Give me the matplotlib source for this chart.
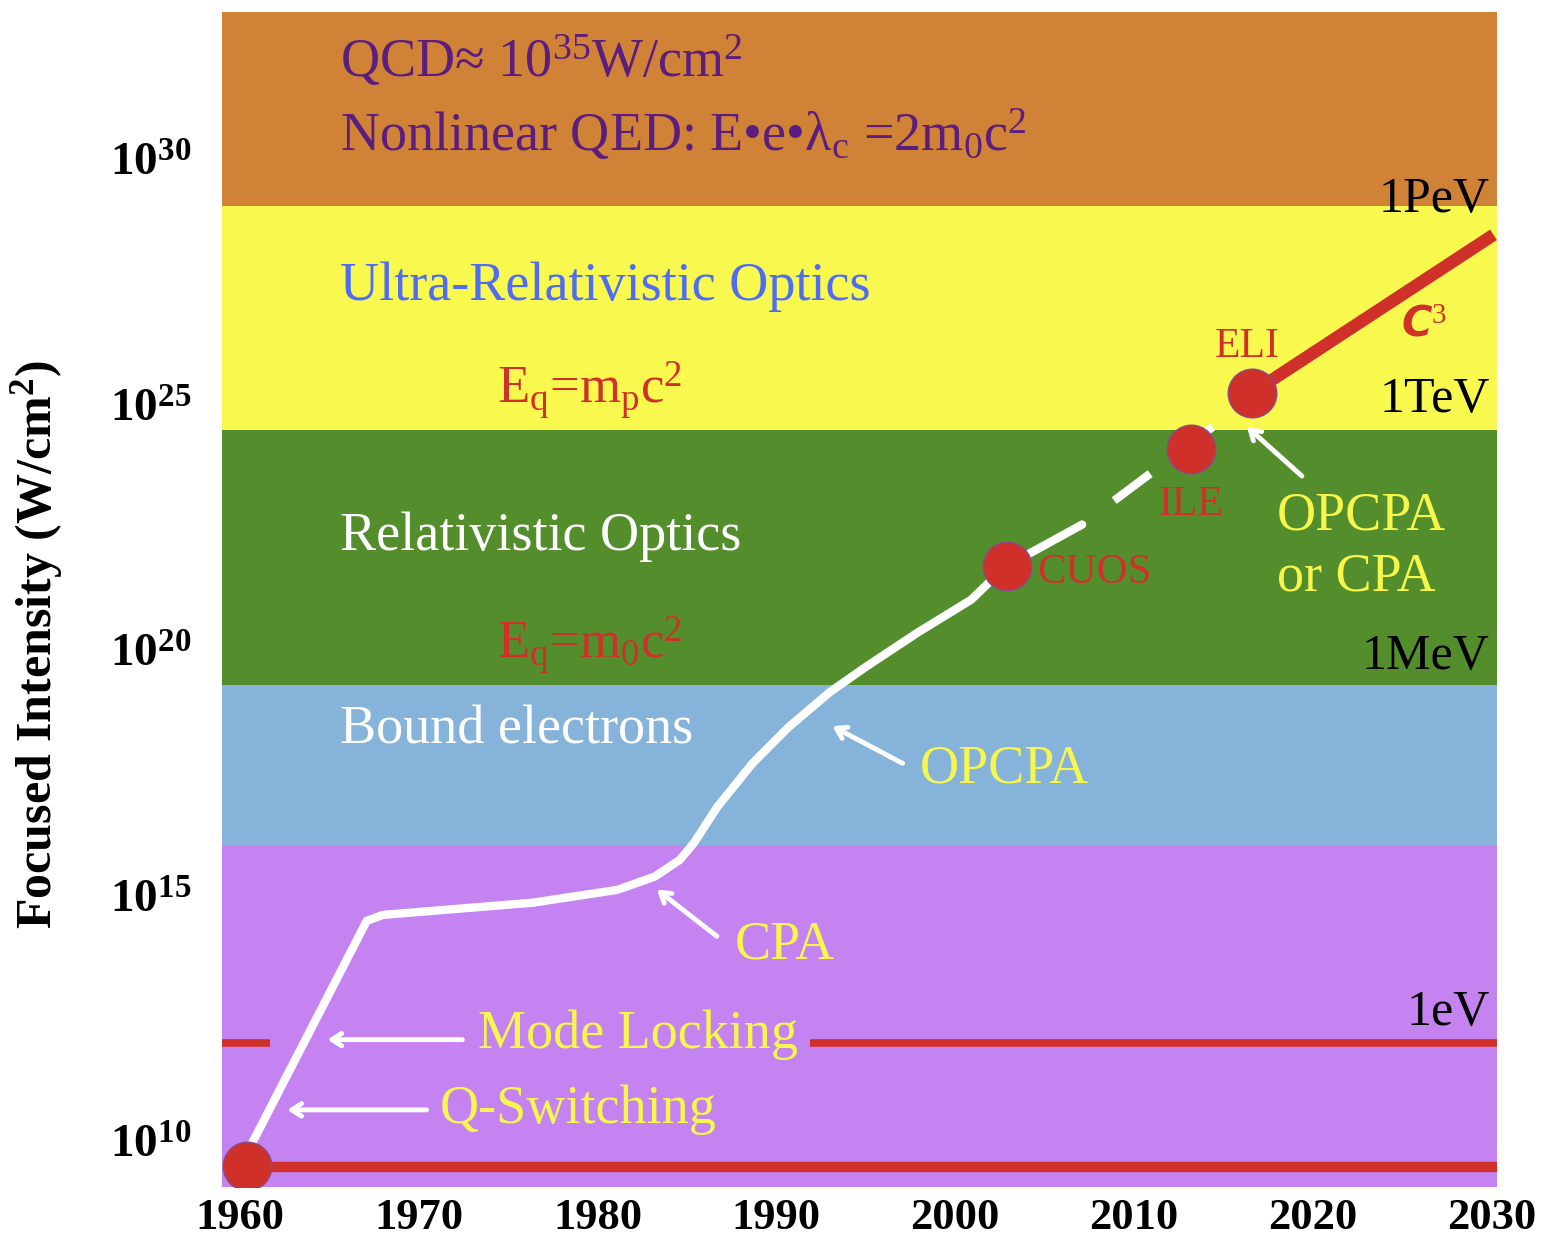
""" Laser focused intensity timeline """
import matplotlib
matplotlib.use('Agg')
import matplotlib.pyplot as plt

plt.rcParams['font.family'] = ['Liberation Serif', 'DejaVu Serif']
plt.rcParams['mathtext.fontset'] = 'custom'
plt.rcParams['mathtext.rm'] = 'Liberation Serif'
plt.rcParams['mathtext.it'] = 'Liberation Serif:italic'
plt.rcParams['mathtext.bf'] = 'Liberation Serif:bold'

# intensity regimes (log10 of W/cm^2)
band_lo = [9.08, 16.05, 19.3, 24.5, 29.05]
band_hi = [16.05, 19.3, 24.5, 29.05, 33.0]
band_colors = ['#C583F2', '#85B3D9', '#548E2C', '#F8F84E', '#D08237']

# white envelope of peak intensity
curve_years = [1960.7, 1967.1, 1968.0, 1976.4, 1981.1, 1983.2,
               1984.6, 1985.4, 1986.7, 1988.7, 1990.7, 1993.0, 1995.0, 1997.9,
               2000.9, 2002.8, 2007.1]
curve_exp = [9.98, 14.5, 14.62, 14.87, 15.13, 15.40,
             15.74, 16.09, 16.82, 17.72, 18.45, 19.16, 19.67, 20.37,
             21.04, 21.71, 22.57]
dash_years = [2007.1, 2014.4]
dash_exp = [22.57, 24.56]

# facilities
dot_years = [1960.4, 2002.9, 2013.2, 2016.6]
dot_exp = [9.51, 21.73, 24.1, 25.25]

# C^3 projection
c3_years = [2016.6, 2030.1]
c3_exp = [25.25, 28.47]

# reference lines
bottom_line_years = [1960.4, 2030.3]
bottom_line_exp = [9.49, 9.49]
ev_line_years = [[1959.0, 1961.7], [1991.9, 2030.3]]
ev_line_exp = 12.02

x_ticks = [1960, 1970, 1980, 1990, 2000, 2010, 2020, 2030]
y_ticks = [10, 15, 20, 25, 30]


def p10(e):
    return 10.0 ** e


fig = plt.figure(figsize=(15.41, 12.39), dpi=100)
ax = fig.add_axes([0.144, 0.042, 0.8275, 0.948])
ax.set_yscale('log')
ax.set_xlim(1959.0, 2030.3)
ax.set_ylim(p10(9.08), p10(33.0))

for lo, hi, c in zip(band_lo, band_hi, band_colors):
    ax.axhspan(p10(lo), p10(hi), color=c, lw=0, zorder=0)

red = '#D0302A'
ax.plot(bottom_line_years, [p10(v) for v in bottom_line_exp], color=red, lw=7.5,
        solid_capstyle='butt', zorder=2)
for seg in ev_line_years:
    ax.plot(seg, [p10(ev_line_exp)] * 2, color=red, lw=5.5, solid_capstyle='butt', zorder=2)

ax.plot(curve_years, [p10(v) for v in curve_exp], color='white', lw=6,
        solid_joinstyle='round', solid_capstyle='round', zorder=3)
ax.plot(dash_years, [p10(v) for v in dash_exp], color='white', lw=6,
        linestyle=(5.4, (5.4, 4.8)), zorder=3)
ax.plot(c3_years, [p10(v) for v in c3_exp], color=red, lw=9,
        solid_capstyle='butt', zorder=3)
ax.plot(dot_years, [p10(v) for v in dot_exp], 'o', ms=35, color=red,
        mec='#8A4A8A', mew=1, zorder=4)

# axes styling
for s in ax.spines.values():
    s.set_visible(False)
ax.tick_params(axis='x', length=0, pad=8)
ax.tick_params(axis='y', length=0, pad=22)
ax.set_xticks(x_ticks)
ax.set_xticklabels([str(v) for v in x_ticks], fontsize=32, fontweight='bold')
ax.set_yticks([p10(v) for v in y_ticks])
ax.set_yticklabels([r'$\mathbf{10^{%d}}$' % v for v in y_ticks], fontsize=34)
ax.minorticks_off()
ax.set_ylabel(r'Focused Intensity (W/cm$^\mathbf{2}$)', fontsize=36,
              fontweight='bold')
ax.yaxis.set_label_coords(-0.123, 0.462)


def label(x, e, s, color, size=39, ha='left', **kw):
    ax.text(x, p10(e), s, color=color, fontsize=size, ha=ha, va='center', zorder=5, **kw)


purple = '#5B1D7E'
yellow = '#F6F64C'
label(1965.6, 32.0, r'QCD≈ 10$^{35}$W/cm$^2$', purple)
label(1965.6, 30.5, r'Nonlinear QED: E•e•λ$_\mathrm{c}$ =2m$_0$c$^2$', purple)
label(1965.6, 27.41, 'Ultra-Relativistic Optics', '#4E6DF2')
label(1974.4, 25.3, r'E$_\mathrm{q}$=m$_\mathrm{p}$c$^2$', red, size=38)
label(1965.6, 22.32, 'Relativistic Optics', 'white')
label(1974.4, 20.12, r'E$_\mathrm{q}$=m$_0$c$^2$', red, size=38)
label(1965.6, 18.39, 'Bound electrons', 'white')
label(1998.0, 17.58, 'OPCPA', yellow)
label(1987.7, 14.01, 'CPA', yellow)
label(1973.3, 12.18, 'Mode Locking', yellow)
label(1971.2, 10.65, 'Q-Switching', yellow)
label(2018.0, 22.73, 'OPCPA', yellow)
label(2018.0, 21.49, 'or CPA', yellow)
label(2016.3, 26.19, 'ELI', red, size=30, ha='center')
label(2013.2, 22.97, 'ILE', red, size=30, ha='center')
label(2004.6, 21.59, 'CUOS', red, size=31)
label(2026.2, 26.64, r'C$^3$', red, size=30, ha='center',
      family='DejaVu Sans', fontweight='bold', fontstyle='italic')
for e, s in [(29.19, '1PeV'), (25.11, '1TeV'), (19.88, '1MeV'), (12.63, '1eV')]:
    label(2029.9, e, s, 'black', size=36, ha='right')

arrows = [((1997.2, 17.68), (1993.0, 18.49)),
          ((1986.8, 14.15), (1983.2, 15.17)),
          ((1972.6, 12.08), (1964.75, 12.08)),
          ((1970.6, 10.65), (1962.5, 10.65)),
          ((2019.5, 23.52), (2016.2, 24.6))]
for (x0, e0), (x1, e1) in arrows:
    ax.annotate('', xy=(x1, p10(e1)), xytext=(x0, p10(e0)),
                arrowprops=dict(arrowstyle='->,head_length=0.7,head_width=0.45',
                                color='white', lw=3.5), zorder=5)

fig.savefig('out.png', dpi=100)
plt.close()
